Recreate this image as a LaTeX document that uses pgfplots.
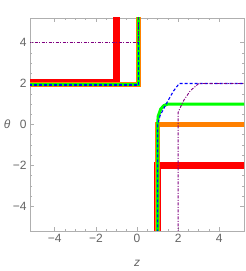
\documentclass[border=0pt]{standalone}
\usepackage{fontspec}
\setmainfont{Liberation Sans}
\usepackage{pgfplots}
\pgfplotsset{compat=1.18}
\definecolor{framegray}{RGB}{175,175,175}
\definecolor{labelgray}{RGB}{100,100,100}
\definecolor{mmaorange}{RGB}{255,128,0}
\definecolor{mmapurple}{RGB}{128,0,128}
\begin{document}
\begin{tikzpicture}
\begin{axis}[
  scale only axis, width=214pt, height=213pt,
  xmin=-5.2, xmax=5.2, ymin=-5.2, ymax=5.2,
  xtick={-4,-2,0,2,4}, xticklabels={−4,−2,0,2,4},
  ytick={-4,-2,0,2,4}, yticklabels={−4,−2,0,2,4},
  minor tick num=3,
  tick align=inside,
  major tick length=4pt, minor tick length=2pt,
  axis line style={framegray, line width=0.6pt},
  every tick/.style={framegray, line width=0.5pt},
  tick label style={font=\fontsize{12}{12}\selectfont, text=labelgray},
  xlabel={\textit{z}}, ylabel={\textit{θ}},
  label style={font=\fontsize{12}{12}\selectfont, text=labelgray},
  xlabel style={at={(axis description cs:0.5,-0.15)}, anchor=center},
  ylabel style={rotate=-90, at={(axis description cs:-0.107,0.5)}, anchor=center},
  clip=true,
]
% red
\addplot[red, line width=7pt] coordinates {(-6,2.03) (-1,2.03) (-1,6)};
\addplot[red, line width=7pt] coordinates {(1,-6) (1,-2) (6,-2)};
% orange
\addplot[mmaorange, line width=5pt] coordinates {(-6,1.93) (0.06,1.93) (0.06,6)};
\addplot[mmaorange, line width=5pt] coordinates {(1,-6) (1,0) (6,0)};
% green
\addplot[green, line width=3pt] coordinates {(-6,1.93) (0.06,1.93) (0.06,6)};
\addplot[green, line width=3pt] coordinates {(1,-6) (1,0) (1.03,0.4) (1.15,0.75) (1.3,0.92) (1.5,1) (6,1)};
% blue dashed
\addplot[blue, line width=1.1pt, dash pattern=on 3pt off 2pt] coordinates {(-6,1.93) (0.06,1.93) (0.06,6)};
\addplot[blue, line width=1.1pt, dash pattern=on 3pt off 2pt] coordinates {(1,-6) (1,0) (1.12,0.43) (1.45,1.06) (1.77,1.63) (2.05,2) (6,2)};
% purple dash-dot
\addplot[mmapurple, line width=0.9pt, dash pattern=on 3pt off 1.5pt on 1pt off 1.5pt] coordinates {(-6,4) (0.06,4) (0.06,6)};
\addplot[mmapurple, line width=0.9pt, dash pattern=on 3pt off 1.5pt on 1pt off 1.5pt] coordinates {(2,-6) (2,0.6) (2.26,1.16) (2.59,1.65) (3,2) (6,2)};
\end{axis}
\path ([xshift=-30pt,yshift=-40pt]current axis.south west) rectangle ([xshift=1pt,yshift=18pt]current axis.north east);
\end{tikzpicture}
\end{document}
